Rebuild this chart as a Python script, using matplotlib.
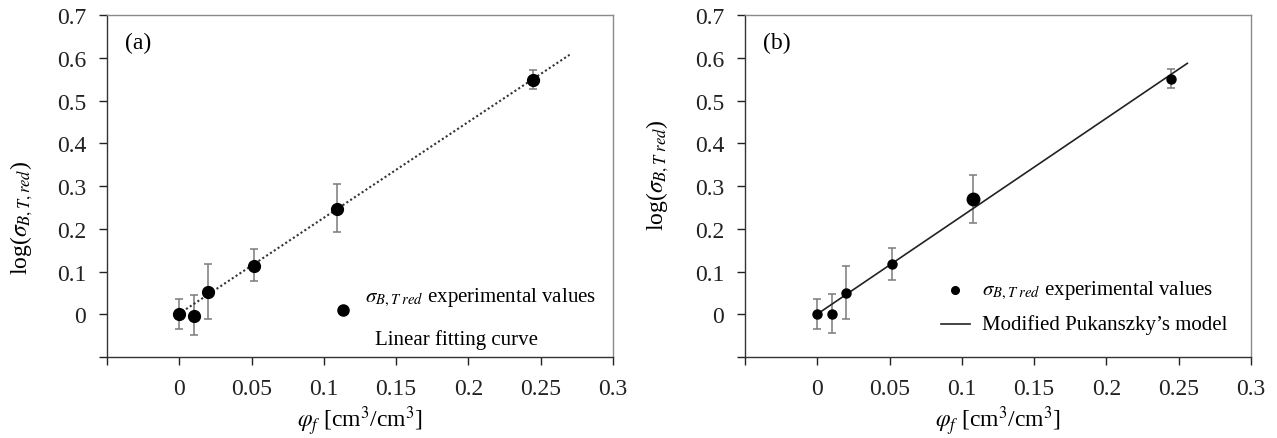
import matplotlib
matplotlib.use("Agg")
import matplotlib.pyplot as plt
from matplotlib.ticker import FixedLocator, FixedFormatter

plt.rcParams['font.family'] = ['Liberation Serif', 'DejaVu Serif']
plt.rcParams['mathtext.fontset'] = 'stix'

# Panel (a) data
a_x = [0.0, 0.01, 0.02, 0.052, 0.109, 0.245]
a_y = [0.0, -0.003, 0.052, 0.114, 0.247, 0.548]
a_err_lo = [0.035, 0.045, 0.063, 0.037, 0.055, 0.022]
a_err_hi = [0.035, 0.047, 0.065, 0.038, 0.058, 0.023]
a_fit_x = [0.002, 0.27]
a_fit_y = [0.006, 0.607]

# Panel (b) data
b_x = [0.0, 0.01, 0.02, 0.052, 0.108, 0.245]
b_y = [0.0, 0.001, 0.05, 0.118, 0.27, 0.551]
b_err_lo = [0.035, 0.046, 0.062, 0.037, 0.057, 0.022]
b_err_hi = [0.035, 0.046, 0.063, 0.037, 0.055, 0.022]
b_sizes = [6.5, 6.5, 6.5, 6.5, 9, 6.5]
b_fit_x = [0.002, 0.256]
b_fit_y = [0.005, 0.587]

x_ticks = [-0.05, 0, 0.05, 0.1, 0.15, 0.2, 0.25, 0.3]
x_labels = ['', '0', '0.05', '0.1', '0.15', '0.2', '0.25', '0.3']
y_ticks = [-0.1, 0, 0.1, 0.2, 0.3, 0.4, 0.5, 0.6, 0.7]
y_labels = ['', '0', '0.1', '0.2', '0.3', '0.4', '0.5', '0.6', '0.7']

fig = plt.figure(figsize=(12.77, 4.39), dpi=100)
ax1 = fig.add_axes([0.0838, 0.1845, 0.3962, 0.779])
ax2 = fig.add_axes([0.5834, 0.1845, 0.3962, 0.779])

err_color = '#7a7a7a'

def style(ax, ylabel, ylab_xy):
    ax.set_xlim(-0.05, 0.3)
    ax.set_ylim(-0.1, 0.7)
    ax.xaxis.set_major_locator(FixedLocator(x_ticks))
    ax.xaxis.set_major_formatter(FixedFormatter(x_labels))
    ax.yaxis.set_major_locator(FixedLocator(y_ticks))
    ax.yaxis.set_major_formatter(FixedFormatter(y_labels))
    ax.tick_params(direction='out', length=6, width=1.0, labelsize=17, colors='#222222', pad=9)
    for s in ['top', 'right']:
        ax.spines[s].set_color('#8a8a8a')
        ax.spines[s].set_linewidth(1.0)
    for s in ['left', 'bottom']:
        ax.spines[s].set_color('#333333')
        ax.spines[s].set_linewidth(1.0)
    ax.set_xlabel(r'$\varphi_f$ [cm$^3$/cm$^3$]', fontsize=17)
    ax.xaxis.set_label_coords(0.5, -0.185)
    ax.xaxis.label.set_va('center')
    ax.set_ylabel(ylabel, fontsize=17)
    ax.yaxis.set_label_coords(*ylab_xy)
    ax.yaxis.label.set_va('center')

# Panel (a)
ax1.plot(a_fit_x, a_fit_y, linestyle=(0, (1, 1.2)), color='#333333', lw=1.5, zorder=2)
ax1.errorbar(a_x, a_y, yerr=[a_err_lo, a_err_hi], fmt='none', ecolor=err_color,
             elinewidth=1.1, capsize=3, capthick=1.1, zorder=1)
ax1.plot(a_x, a_y, 'o', color='black', markersize=8.5, zorder=3)
style(ax1, r'log($\sigma_{B,T,red}$)', (-0.168, 0.41))
ax1.text(0.062, 0.92, '(a)', transform=ax1.transAxes, fontsize=17, va='center', ha='center')
ax1.plot([0.466], [0.1375], 'o', color='black', markersize=8, transform=ax1.transAxes, clip_on=False)
ax1.text(0.51, 0.175, r'$\sigma_{B,T\ red}$ experimental values', transform=ax1.transAxes,
         fontsize=15, va='center', ha='left')
ax1.text(0.53, 0.053, 'Linear fitting curve', transform=ax1.transAxes,
         fontsize=15, va='center', ha='left')

# Panel (b)
ax2.plot(b_fit_x, b_fit_y, '-', color='#222222', lw=1.2, zorder=2)
ax2.errorbar(b_x, b_y, yerr=[b_err_lo, b_err_hi], fmt='none', ecolor=err_color,
             elinewidth=1.1, capsize=3, capthick=1.1, zorder=1)
for xi, yi, si in zip(b_x, b_y, b_sizes):
    ax2.plot([xi], [yi], 'o', color='black', markersize=si, zorder=3)
style(ax2, r'log($\sigma_{B,T\ red}$)', (-0.172, 0.535))
ax2.text(0.062, 0.92, '(b)', transform=ax2.transAxes, fontsize=17, va='center', ha='center')
ax2.plot([0.415], [0.196], 'o', color='black', markersize=5.5, transform=ax2.transAxes)
ax2.text(0.468, 0.196, r'$\sigma_{B,T\ red}$ experimental values', transform=ax2.transAxes,
         fontsize=15, va='center', ha='left')
ax2.plot([0.387, 0.445], [0.096, 0.096], '-', color='#222222', lw=1.2, transform=ax2.transAxes)
ax2.text(0.468, 0.096, 'Modified Pukanszky\u2019s model', transform=ax2.transAxes,
         fontsize=15, va='center', ha='left')

fig.savefig('out.png', dpi=100)
